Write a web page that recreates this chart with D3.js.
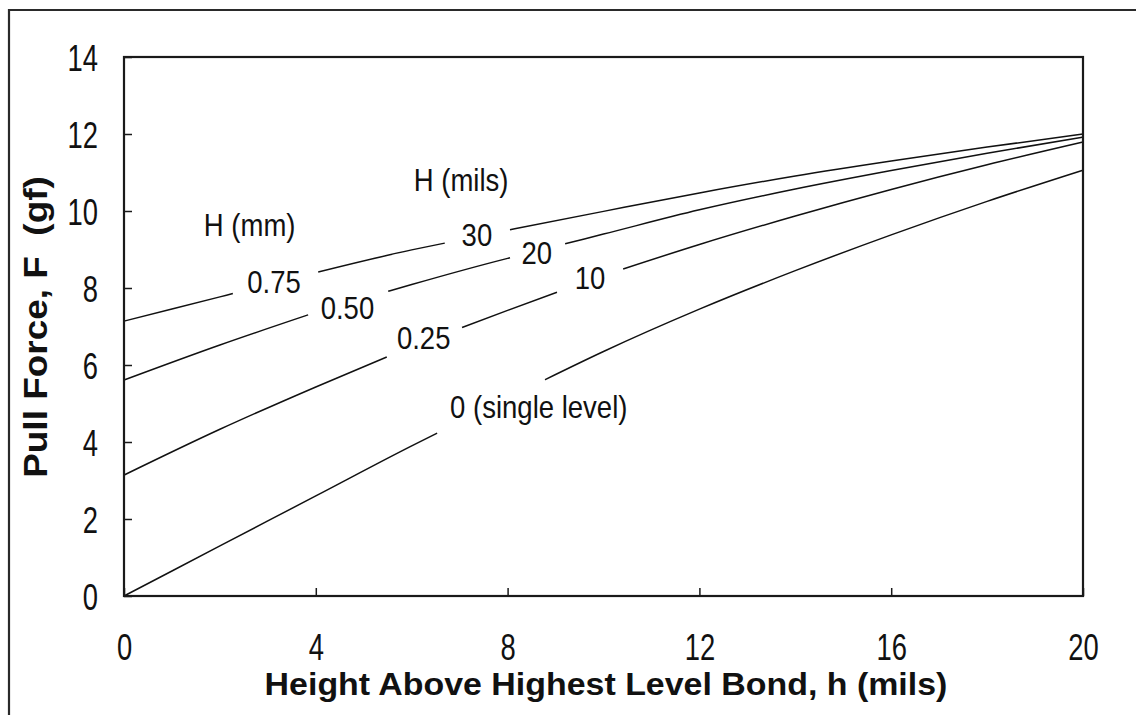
<!DOCTYPE html>
<html>
<head>
<meta charset="utf-8">
<script src="https://cdn.jsdelivr.net/npm/d3@7"></script>
<style>
  html, body { margin: 0; padding: 0; background: #fff; }
  svg { display: block; font-family: "Liberation Sans", Arial, sans-serif; }
</style>
</head>
<body>
<svg id="chart" width="1136" height="715" viewBox="0 0 1136 715"></svg>
<script>
// Height above highest level bond, h (mils)
const hGrid = [0, 2, 4, 6, 8, 10, 12, 14, 16, 18, 20];

// Pull force F (gf), one array per bond level difference H
const F_H075 = [7.14, 7.77, 8.40, 8.99, 9.50, 9.99, 10.47, 10.91, 11.30, 11.66, 12.00];
const F_H050 = [5.61, 6.52, 7.37, 8.09, 8.77, 9.40, 10.03, 10.57, 11.05, 11.50, 11.92];
const F_H025 = [3.14, 4.33, 5.43, 6.48, 7.42, 8.33, 9.13, 9.87, 10.56, 11.20, 11.79];
const F_H000 = [0.00, 1.30, 2.60, 3.90, 5.15, 6.35, 7.45, 8.45, 9.38, 10.25, 11.06];

// where each curve is broken for its labels (h ranges)
const gaps075 = [[2.27, 4.05], [6.69, 8.05]];
const gaps050 = [[3.84, 5.51], [8.05, 9.2]];
const gaps025 = [[5.48, 7.05], [9.03, 10.41]];
const gaps000 = [[6.53, 8.78]];

const xTicks = [0, 4, 8, 12, 16, 20];
const yTicks = [0, 2, 4, 6, 8, 10, 12, 14];

const series = [
    { values: F_H075, gaps: gaps075 },
    { values: F_H050, gaps: gaps050 },
    { values: F_H025, gaps: gaps025 },
    { values: F_H000, gaps: gaps000 }
];

// in-plot labels, placed in data units (h, F)
const labels = [
    { text: "H (mm)", h: 2.62, f: 9.66 },
    { text: "H (mils)", h: 7.03, f: 10.83 },
    { text: "0.75", h: 3.13, f: 8.18 },
    { text: "0.50", h: 4.66, f: 7.49 },
    { text: "0.25", h: 6.25, f: 6.71 },
    { text: "30", h: 7.36, f: 9.39 },
    { text: "20", h: 8.61, f: 8.92 },
    { text: "10", h: 9.72, f: 8.27 },
    { text: "0 (single level)", h: 8.65, f: 4.93 }
];

const svg = d3.select("#chart");
const margin = { left: 124, top: 57, right: 1083, bottom: 596 };

const x = d3.scaleLinear().domain([0, 20]).range([margin.left, margin.right]);
const y = d3.scaleLinear().domain([0, 14]).range([margin.bottom, margin.top]);

// outer figure frame (only left and top edges visible)
svg.append("path")
    .attr("d", "M9,715V10H1136")
    .attr("fill", "none")
    .attr("stroke", "#2a2a2a")
    .attr("stroke-width", 2.2);

// curves
const line = d3.line()
    .x(d => x(d[0]))
    .y(d => y(d[1]))
    .curve(d3.curveMonotoneX);

series.forEach(s => {
    const interp = d3.scaleLinear().domain(hGrid).range(s.values);
    // split [0,20] into visible pieces
    let pieces = [];
    let start = 0;
    s.gaps.forEach(g => { pieces.push([start, g[0]]); start = g[1]; });
    pieces.push([start, 20]);
    pieces.forEach(p => {
        const hs = [p[0]].concat(hGrid.filter(h => h > p[0] && h < p[1]), [p[1]]);
        svg.append("path")
            .attr("d", line(hs.map(h => [h, interp(h)])))
            .attr("fill", "none")
            .attr("stroke", "#111")
            .attr("stroke-width", 1.5);
    });
});

// plot box
svg.append("rect")
    .attr("x", margin.left)
    .attr("y", margin.top)
    .attr("width", margin.right - margin.left)
    .attr("height", margin.bottom - margin.top)
    .attr("fill", "none")
    .attr("stroke", "#1a1a1a")
    .attr("stroke-width", 2.2);

// axes with inward ticks
const tickScaleX = 0.74;
const gx = svg.append("g")
    .attr("transform", `translate(0,${margin.bottom})`)
    .call(d3.axisBottom(x).tickValues(xTicks).tickFormat(d3.format("d"))
        .tickSizeInner(-8).tickSizeOuter(0));
const gy = svg.append("g")
    .attr("transform", `translate(${margin.left},0)`)
    .call(d3.axisLeft(y).tickValues(yTicks).tickFormat(d3.format("d"))
        .tickSizeInner(-8).tickSizeOuter(0));

[gx, gy].forEach(g => {
    g.select(".domain").remove();
    g.selectAll(".tick line").attr("stroke", "#1a1a1a").attr("stroke-width", 1.5);
    g.selectAll(".tick text")
        .attr("fill", "#111")
        .style("font-size", "37px");
});
gx.selectAll(".tick text")
    .attr("y", 38)
    .attr("transform", `scale(${tickScaleX},1)`);
gy.selectAll(".tick text")
    .attr("x", -26 / tickScaleX)
    .attr("dy", "0.36em")
    .attr("transform", `scale(${tickScaleX},1)`);

// axis titles
svg.append("text")
    .attr("transform", "translate(606,695) scale(1.06,1)")
    .attr("text-anchor", "middle")
    .style("font-size", "32px")
    .style("font-weight", "bold")
    .attr("fill", "#111")
    .text("Height Above Highest Level Bond, h (mils)");

svg.append("text")
    .attr("transform", "translate(47,327) rotate(-90) scale(1.12,1)")
    .attr("text-anchor", "middle")
    .style("font-size", "33px")
    .style("font-weight", "bold")
    .attr("fill", "#111")
    .attr("xml:space", "preserve")
    .text("Pull Force, F  (gf)");

// curve labels
svg.append("g")
    .selectAll("text")
    .data(labels)
    .join("text")
    .attr("transform", d => `translate(${x(d.h)},${y(d.f)}) scale(0.86,1)`)
    .attr("text-anchor", "middle")
    .attr("dy", "0.36em")
    .style("font-size", "32px")
    .attr("fill", "#111")
    .text(d => d.text);
</script>
</body>
</html>
